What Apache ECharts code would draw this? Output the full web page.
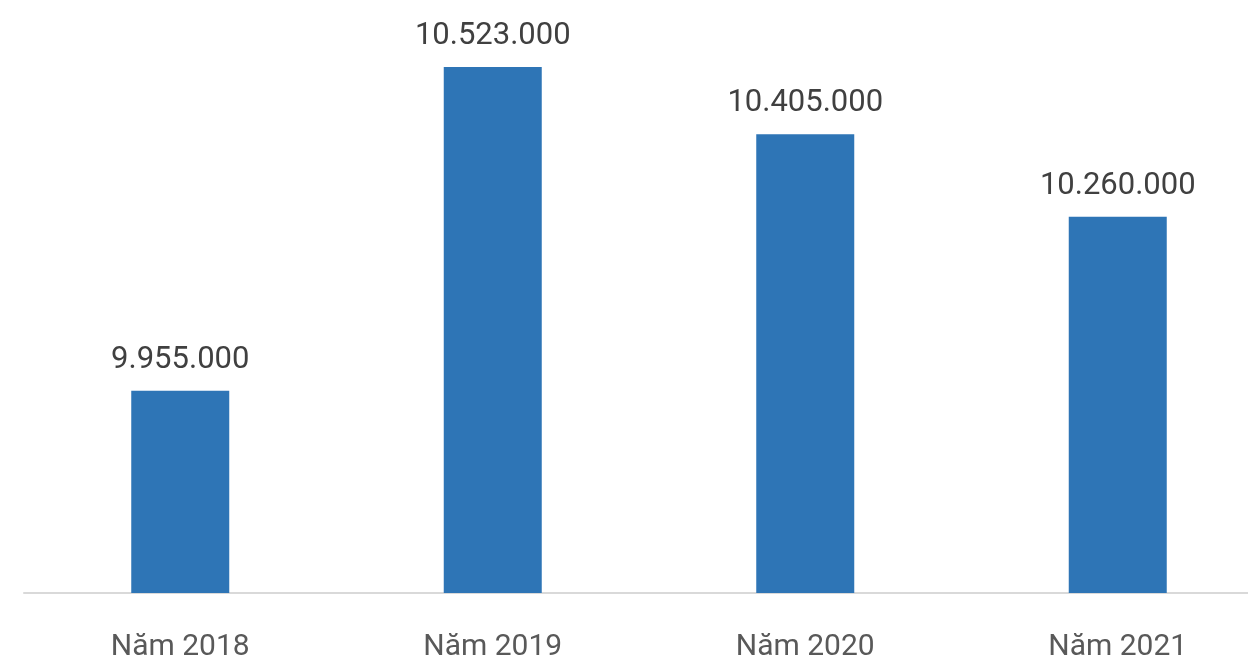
<!DOCTYPE html>
<html>
<head>
<meta charset="utf-8">
<script src="https://cdn.jsdelivr.net/npm/echarts@6/dist/echarts.min.js"></script>
<style>
  html, body { margin: 0; padding: 0; background: #fff; }
  #chart { width: 1248px; height: 661px; }
</style>
</head>
<body>
<div id="chart"></div>
<script>
const categories = ['Năm 2018', 'Năm 2019', 'Năm 2020', 'Năm 2021'];
const values = [9955000, 10523000, 10405000, 10260000];

const chart = echarts.init(document.getElementById('chart'));

const fmt = v => String(v).replace(/\B(?=(\d{3})+(?!\d))/g, '.');

chart.setOption({
    animation: false,
    grid: {
        left: 24, top: 23, right: -26, bottom: 68,
        containLabel: false,
        outerBoundsMode: 'none'
    },
    xAxis: {
        type: 'category',
        data: categories,
        axisLine: { lineStyle: { color: '#d9d9d9', width: 2 } },
        axisTick: { show: false },
        axisLabel: {
            color: '#595959',
            fontSize: 30,
            fontFamily: 'Roboto',
            margin: 39
        }
    },
    yAxis: {
        type: 'value',
        min: 9600000,
        max: 10600000,
        show: false,
        splitLine: { show: false }
    },
    series: [
        {
            type: 'bar',
            data: values,
            barWidth: 98,
            itemStyle: { color: '#2e75b6' },
            label: {
                show: true,
                position: 'top',
                distance: 15,
                color: '#404040',
                fontSize: 31,
                fontFamily: 'Roboto',
                formatter: p => fmt(p.value)
            }
        }
    ]
});
</script>
</body>
</html>
